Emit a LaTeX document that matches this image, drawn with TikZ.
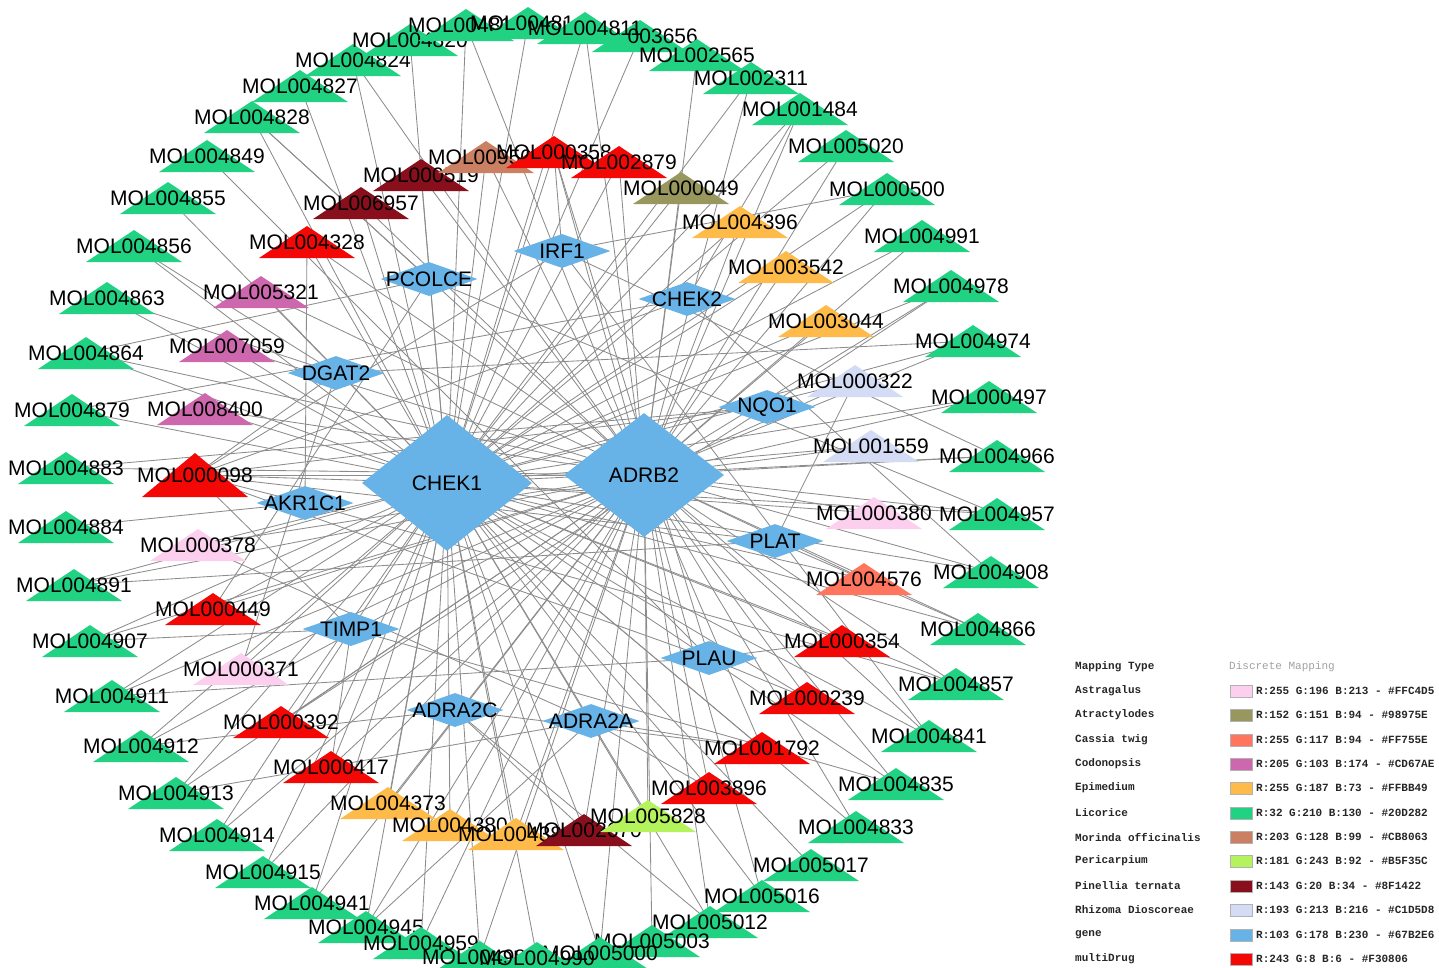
\documentclass[tikz,border=0pt]{standalone}
\usepackage{fontspec}
\setmainfont{Liberation Sans}
\newfontfamily\legfont{Liberation Mono}
\usetikzlibrary{shapes.geometric}
\definecolor{cAstra}{HTML}{FCCFEF}
\definecolor{cAtra}{HTML}{98975E}
\definecolor{cCassia}{HTML}{FF755E}
\definecolor{cCodon}{HTML}{CD67AE}
\definecolor{cEpim}{HTML}{FFBB49}
\definecolor{cLico}{HTML}{20D282}
\definecolor{cMorin}{HTML}{CB8063}
\definecolor{cPeri}{HTML}{B5F35C}
\definecolor{cPinel}{HTML}{8A0F1C}
\definecolor{cRhizo}{HTML}{D3DBF5}
\definecolor{cGene}{HTML}{67B2E6}
\definecolor{cMulti}{HTML}{F30806}
\definecolor{cEdge}{RGB}{140,140,140}
\definecolor{cLegGray}{RGB}{160,160,160}
\pgfdeclarelayer{edges}
\pgfsetlayers{edges,main}
\tikzset{
  lbl/.style={inner sep=0pt, font=\fontsize{21}{21}\selectfont, text=black},
  gene/.style={diamond, fill=cGene, inner sep=0pt},
  glabel/.style={label={[lbl]center:#1}},
  smallgene/.style={gene, minimum width=97pt, minimum height=34pt},
  edge/.style={draw=cEdge, line width=0.85pt},
  legtxt/.style={anchor=west, inner sep=0pt, font=\legfont\bfseries\fontsize{11}{11}\selectfont, text=black!85},
  swatch/.style={draw=gray!60, line width=0.8pt}
}
\newcommand\mol[4]{%
  \fill[#4] (#2-48,#3+16) -- (#2,#3-16) -- (#2+48,#3+16) -- cycle;
  \node[lbl] (m#1) at (#2,#3) {MOL#1};}
\newcommand\molbig[4]{%
  \fill[#4] (#2-53,#3+22) -- (#2,#3-22) -- (#2+53,#3+22) -- cycle;
  \node[lbl] (m#1) at (#2,#3) {MOL#1};}
\newcommand\legrow[5]{%
  \node[legtxt] (#1) at (1075,#2) {#3};
  \draw[swatch, fill=#4] (1230,#2-6) rectangle (1252,#2+6);
  \node[legtxt] (#1v) at (1256,#2) {#5};}
\begin{document}
\begin{tikzpicture}[x=1pt,y=-1pt]
\useasboundingbox (0,0) rectangle (1439,967);
% ---------- outer ring (Licorice) ----------
\mol{004824}{353}{60}{cLico}
\mol{004820}{410}{40}{cLico}
\mol{004815}{466}{25}{cLico}
\mol{004814}{528}{23}{cLico}
\mol{003656}{640}{36}{cLico}
\mol{004811}{585}{28}{cLico}
\mol{002565}{697}{55}{cLico}
\mol{002311}{751}{78}{cLico}
\mol{001484}{800}{109}{cLico}
\mol{005020}{846}{146}{cLico}
\mol{000500}{887}{189}{cLico}
\mol{004991}{922}{236}{cLico}
\mol{004978}{951}{286}{cLico}
\mol{004974}{973}{341}{cLico}
\mol{000497}{989}{397}{cLico}
\mol{004966}{997}{456}{cLico}
\mol{004957}{997}{514}{cLico}
\mol{004908}{991}{572}{cLico}
\mol{004866}{978}{629}{cLico}
\mol{004857}{956}{684}{cLico}
\mol{004841}{929}{736}{cLico}
\mol{004835}{896}{784}{cLico}
\mol{004833}{856}{827}{cLico}
\mol{005017}{811}{865}{cLico}
\mol{005016}{762}{896}{cLico}
\mol{005012}{710}{922}{cLico}
\mol{004827}{300}{86}{cLico}
\mol{004828}{252}{117}{cLico}
\mol{004849}{207}{156}{cLico}
\mol{004855}{168}{198}{cLico}
\mol{004856}{134}{246}{cLico}
\mol{004863}{107}{298}{cLico}
\mol{004864}{86}{353}{cLico}
\mol{004879}{72}{410}{cLico}
\mol{004883}{66}{468}{cLico}
\mol{004884}{66}{527}{cLico}
\mol{004891}{74}{585}{cLico}
\mol{004907}{90}{641}{cLico}
\mol{004911}{112}{696}{cLico}
\mol{004912}{141}{746}{cLico}
\mol{004913}{176}{793}{cLico}
\mol{004914}{217}{835}{cLico}
\mol{004915}{263}{872}{cLico}
\mol{004941}{312}{903}{cLico}
\mol{004945}{366}{927}{cLico}
\mol{004959}{421}{943}{cLico}
\mol{005003}{652}{941}{cLico}
\mol{005000}{600}{953}{cLico}
\mol{004988}{480}{957}{cLico}
\mol{004990}{537}{958}{cLico}
% ---------- inner ring ----------
\mol{006957}{361}{203}{cPinel}
\mol{000519}{421}{175}{cPinel}
\mol{009504}{486}{157}{cMorin}
\mol{000358}{554}{152}{cMulti}
\mol{002879}{619}{162}{cMulti}
\mol{000049}{681}{188}{cAtra}
\mol{004396}{740}{222}{cEpim}
\mol{003542}{786}{267}{cEpim}
\mol{003044}{826}{321}{cEpim}
\mol{000322}{855}{381}{cRhizo}
\mol{001559}{871}{446}{cRhizo}
\mol{000380}{874}{513}{cAstra}
\mol{004576}{864}{579}{cCassia}
\mol{000354}{842}{641}{cMulti}
\mol{000239}{807}{698}{cMulti}
\mol{001792}{762}{748}{cMulti}
\mol{003896}{709}{788}{cMulti}
\mol{004373}{388}{803}{cEpim}
\mol{004380}{450}{825}{cEpim}
\mol{004384}{516}{834}{cEpim}
\mol{002670}{584}{830}{cPinel}
\mol{005828}{648}{816}{cPeri}
\mol{000417}{331}{767}{cMulti}
\mol{000392}{281}{722}{cMulti}
\mol{000371}{241}{669}{cAstra}
\mol{000449}{213}{609}{cMulti}
\mol{000378}{198}{545}{cAstra}
\molbig{000098}{195}{475}{cMulti}
\mol{008400}{205}{409}{cCodon}
\mol{007059}{227}{346}{cCodon}
\mol{005321}{261}{292}{cCodon}
\mol{004328}{307}{242}{cMulti}
% ---------- genes ----------
\node[gene, minimum width=170pt, minimum height=136pt, glabel=CHEK1] (CHEK1) at (447,483) {};
\node[gene, minimum width=160pt, minimum height=124pt, glabel=ADRB2] (ADRB2) at (644,475) {};
\node[smallgene, glabel=IRF1] (IRF1) at (562,251) {};
\node[smallgene, glabel=PCOLCE] (PCOLCE) at (429,279) {};
\node[smallgene, glabel=CHEK2] (CHEK2) at (687,299) {};
\node[smallgene, glabel=DGAT2] (DGAT2) at (336,373) {};
\node[smallgene, glabel=NQO1] (NQO1) at (767,407) {};
\node[smallgene, glabel=AKR1C1] (AKR1C1) at (305,503) {};
\node[smallgene, glabel=PLAT] (PLAT) at (775,541) {};
\node[smallgene, glabel=TIMP1] (TIMP1) at (351,629) {};
\node[smallgene, glabel=PLAU] (PLAU) at (709,658) {};
\node[smallgene, glabel=ADRA2C] (ADRA2C) at (455,710) {};
\node[smallgene, glabel=ADRA2A] (ADRA2A) at (591,721) {};
% ---------- edges ----------
\begin{pgfonlayer}{edges}
\foreach \a/\b in {
 m004820/CHEK1, m004815/CHEK1, m004815/ADRB2, m004814/CHEK1, m004811/CHEK1, m004811/ADRB2,
 m003656/CHEK1, m002565/ADRB2, m002311/CHEK1, m002311/ADRB2, m001484/CHEK1, m001484/ADRB2,
 m005020/CHEK1, m005020/ADRB2, m000500/CHEK1, m000500/ADRB2, m004991/CHEK1, m004991/ADRB2,
 m004978/CHEK1, m004978/ADRB2, m004974/CHEK1, m004974/ADRB2, m000497/CHEK1, m000497/ADRB2,
 m004966/CHEK1, m004966/ADRB2, m004957/CHEK1, m004957/ADRB2, m004908/CHEK1, m004908/ADRB2,
 m004866/CHEK1, m004866/ADRB2, m004857/CHEK1, m004857/ADRB2, m004841/CHEK1, m004841/ADRB2,
 m004835/CHEK1, m004835/ADRB2, m004833/CHEK1, m004833/ADRB2, m005017/CHEK1, m005016/CHEK1,
 m005016/ADRB2, m005012/CHEK1, m005012/ADRB2, m005003/ADRB2, m005000/CHEK1, m005000/ADRB2,
 m004990/CHEK1, m004988/CHEK1, m004988/ADRB2, m004959/CHEK1, m004959/ADRB2, m004945/CHEK1,
 m004945/ADRB2, m004941/CHEK1, m004941/ADRB2, m004915/CHEK1, m004915/ADRB2, m004914/CHEK1,
 m004914/ADRB2, m004913/CHEK1, m004913/ADRB2, m004912/CHEK1, m004912/ADRB2, m004911/CHEK1,
 m004911/ADRB2, m004907/CHEK1, m004907/ADRB2, m004891/CHEK1, m004891/ADRB2, m004884/AKR1C1,
 m004883/ADRB2, m004879/CHEK1, m004864/CHEK1, m004864/ADRB2, m004863/CHEK1, m004856/CHEK1,
 m004855/CHEK1, m004849/PLAU, m004828/CHEK1, m004828/ADRB2, m004827/CHEK1, m004824/CHEK1,
 m004824/ADRB2,
 m000519/CHEK1, m000519/ADRB2, m009504/CHEK1, m009504/ADRB2, m000358/CHEK1, m000358/ADRB2,
 m000358/PLAU, m002879/ADRB2, m002879/CHEK1, m000049/CHEK1, m000049/ADRB2, m004396/CHEK1,
 m004396/ADRB2, m003542/CHEK1, m003542/ADRB2, m003044/CHEK1, m003044/ADRB2, m000322/ADRB2,
 m000322/CHEK1, m001559/CHEK1, m001559/ADRB2, m000380/CHEK1, m000380/ADRB2, m004576/CHEK1,
 m004576/ADRB2, m000354/CHEK1, m000354/ADRB2, m000354/PLAU, m000239/CHEK1, m000239/ADRB2,
 m000239/PLAU, m001792/CHEK1, m001792/ADRB2, m001792/ADRA2A, m003896/CHEK1, m003896/ADRB2,
 m005828/CHEK1, m005828/ADRB2, m002670/CHEK1, m002670/ADRB2, m002670/ADRA2C, m004384/CHEK1,
 m004384/ADRB2, m004380/CHEK1, m004380/ADRB2, m004373/CHEK1, m004373/ADRB2, m000417/CHEK1,
 m000417/ADRB2, m000392/CHEK1, m000392/ADRB2, m000371/CHEK1, m000371/ADRB2, m000449/CHEK1,
 m000449/ADRB2, m000378/CHEK1, m000378/ADRB2, m000098/CHEK1, m000098/ADRB2, m000098/AKR1C1,
 m000098/NQO1, m000098/PLAU, m000098/PLAT, m000098/TIMP1, m000098/IRF1, m000098/CHEK2,
 m000098/DGAT2, m008400/CHEK1, m008400/ADRB2, m007059/CHEK1, m007059/ADRB2, m005321/CHEK1,
 m005321/ADRB2, m004328/AKR1C1, m004328/CHEK1, m004328/ADRB2, m006957/CHEK1, m006957/ADRB2,
 m000358/IRF1, m004966/IRF1, m000500/IRF1, m004841/IRF1,
 m004864/PCOLCE, m000449/PCOLCE, m004828/PCOLCE, m004957/PCOLCE,
 m004879/CHEK2, m004908/CHEK2, m001484/CHEK2,
 m004856/DGAT2, m004863/DGAT2, m004974/DGAT2, m000371/DGAT2,
 m004883/NQO1, m004978/NQO1, m000392/NQO1,
 m004857/AKR1C1,
 m004891/PLAT, m004866/PLAT, m000322/PLAT,
 m004907/TIMP1, m004835/TIMP1, m000417/TIMP1,
 m004911/PLAU,
 m004912/ADRA2C, m001792/ADRA2C, m005012/ADRA2C,
 m004913/ADRA2A, m000378/ADRA2A, m003896/ADRA2A, m004945/ADRA2A}
 {\draw[edge] (\a.center) -- (\b.center);}
\end{pgfonlayer}
% ---------- legend ----------
\node[legtxt] (legHead) at (1075,667) {Mapping Type};
\node[legtxt, font=\legfont\fontsize{11}{11}\selectfont, text=cLegGray] (legHeadV) at (1229,667) {Discrete Mapping};
\legrow{lAstra}{691}{Astragalus}{cAstra}{R:255 G:196 B:213 - \#FFC4D5}
\legrow{lAtra}{715}{Atractylodes}{cAtra}{R:152 G:151 B:94 - \#98975E}
\legrow{lCassia}{740}{Cassia twig}{cCassia}{R:255 G:117 B:94 - \#FF755E}
\legrow{lCodon}{764}{Codonopsis}{cCodon}{R:205 G:103 B:174 - \#CD67AE}
\legrow{lEpim}{788}{Epimedium}{cEpim}{R:255 G:187 B:73 - \#FFBB49}
\legrow{lLico}{813}{Licorice}{cLico}{R:32 G:210 B:130 - \#20D282}
\legrow{lMorin}{837}{Morinda officinalis}{cMorin}{R:203 G:128 B:99 - \#CB8063}
\legrow{lPeri}{861}{Pericarpium}{cPeri}{R:181 G:243 B:92 - \#B5F35C}
\legrow{lPinel}{886}{Pinellia ternata}{cPinel}{R:143 G:20 B:34 - \#8F1422}
\legrow{lRhizo}{910}{Rhizoma Dioscoreae}{cRhizo}{R:193 G:213 B:216 - \#C1D5D8}
\legrow{lGene}{935}{gene}{cGene}{R:103 G:178 B:230 - \#67B2E6}
\legrow{lMulti}{959}{multiDrug}{cMulti}{R:243 G:8 B:6 - \#F30806}
\end{tikzpicture}
\end{document}
